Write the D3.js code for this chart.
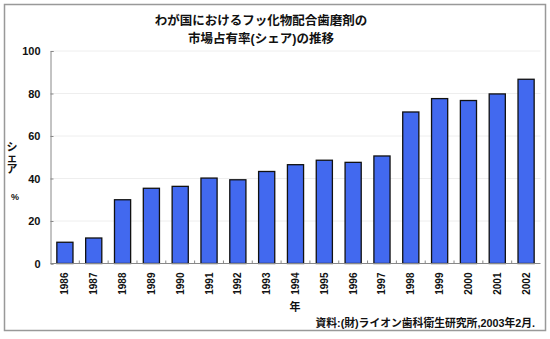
<!DOCTYPE html>
<html><head><meta charset="utf-8">
<script src="https://cdn.jsdelivr.net/npm/d3@7"></script>
<style>body{margin:0;background:#fff}svg{display:block}text{font-family:"Liberation Sans","Noto Sans CJK JP",sans-serif;font-weight:bold;fill:#111}</style>
</head><body>
<script>
const years = ["1986","1987","1988","1989","1990","1991","1992","1993","1994","1995","1996","1997","1998","1999","2000","2001","2002"];
const shares = [10,12,30,35.4,36.3,40.2,39.4,43.3,46.5,48.6,47.6,50.6,71.3,77.6,76.7,79.8,86.7];
const yTicks = [0,20,40,60,80,100];
const titleLines = ["わが国におけるフッ化物配合歯磨剤の","市場占有率(シェア)の推移"];
const yTitle = ["シ","ェ","ア"];
const yUnit = "%";
const xTitle = "年";
const source = "資料:(財)ライオン歯科衛生研究所,2003年2月.";

const W=550,H=339;
const svg=d3.select("body").append("svg").attr("width",W).attr("height",H);
svg.append("rect").attr("x",4.5).attr("y",4.5).attr("width",541).attr("height",326)
  .attr("fill","none").attr("stroke","#999").attr("stroke-width",1.5);

const x=d3.scaleBand().domain(years).range([50.5,540.5]).paddingInner(0.44).paddingOuter(0.22);
const y=d3.scaleLinear().domain([0,100]).range([263.5,51]);

// faint gridlines
svg.append("g").selectAll("line").data(yTicks.filter(d=>d>0)).join("line")
  .attr("x1",50.5).attr("x2",540.5).attr("y1",d=>y(d)).attr("y2",d=>y(d))
  .attr("stroke","#eee").attr("stroke-width",1);

// y axis
const ya=svg.append("g").attr("transform","translate(50.5,0)")
  .call(d3.axisLeft(y).tickValues(yTicks).tickSize(-3).tickPadding(10));
ya.select(".domain").attr("stroke","#888");
ya.selectAll(".tick line").attr("stroke","#888");
ya.selectAll("text").attr("font-size",11).style("font-weight","bold").attr("fill","#111").attr("font-family",'"Liberation Sans",sans-serif');

// bars
svg.append("g").selectAll("rect").data(years).join("rect")
  .attr("x",d=>x(d)).attr("width",x.bandwidth())
  .attr("y",(d,i)=>y(shares[i])).attr("height",(d,i)=>y(0)-y(shares[i]))
  .attr("fill","#4269ef").attr("stroke","#111").attr("stroke-width",1.3);

// x axis
const xa=svg.append("g").attr("transform","translate(0,263.5)")
  .call(d3.axisBottom(x).tickSize(0).tickPadding(0));
xa.select(".domain").attr("stroke","#888").attr("d","M50.5,0H540.5");
xa.selectAll(".tick text").attr("transform","rotate(-90)").attr("text-anchor","end")
  .attr("x",-9).attr("y",0).attr("dy","0.35em").attr("font-size",10)
  .style("font-weight","bold").attr("fill","#111").attr("font-family",'"Liberation Sans",sans-serif');
// small inward ticks between bars
const step=x.step();
svg.append("g").selectAll("line").data(years.slice(1)).join("line")
  .attr("x1",d=>x(d)-(step-x.bandwidth())/2).attr("x2",d=>x(d)-(step-x.bandwidth())/2)
  .attr("y1",263.5).attr("y2",260.5).attr("stroke","#888");

// titles
svg.append("g").selectAll("text").data(titleLines).join("text")
  .attr("x",261).attr("y",(d,i)=>25+i*18).attr("text-anchor","middle")
  .attr("font-size",12.5).text(d=>d);
svg.append("g").selectAll("text").data(yTitle).join("text")
  .attr("x",12).attr("y",(d,i)=>151+i*11).attr("text-anchor","middle")
  .attr("font-size",11).text(d=>d);
svg.append("text").attr("x",15).attr("y",200).attr("text-anchor","middle").attr("font-size",9).text(yUnit);
svg.append("text").attr("x",295).attr("y",311).attr("text-anchor","middle").attr("font-size",11).text(xTitle);
svg.append("text").attr("x",535).attr("y",327).attr("text-anchor","end").attr("font-size",10.8).text(source);
</script>
</body></html>
